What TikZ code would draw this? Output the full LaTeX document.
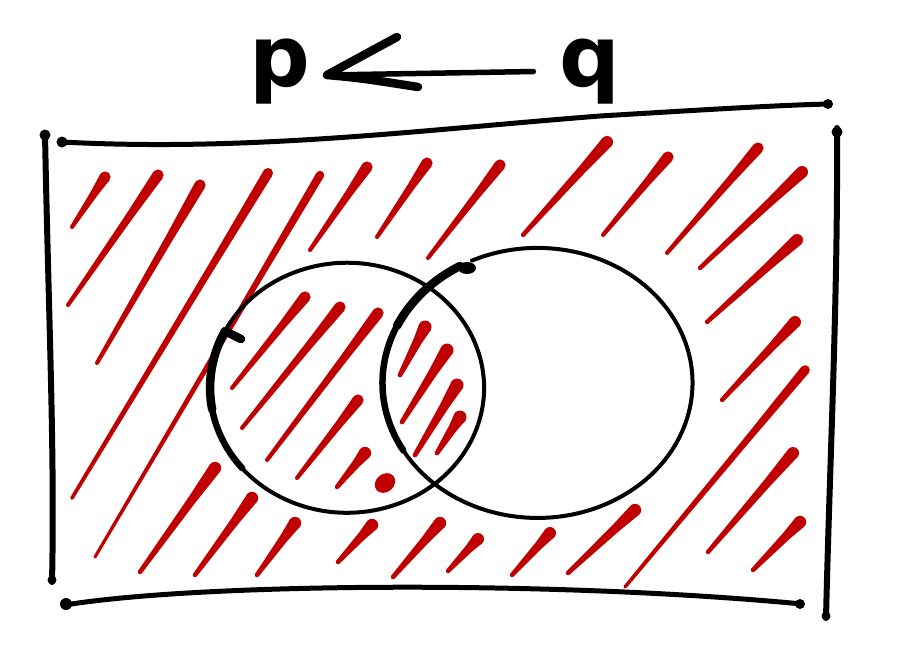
\documentclass[tikz,border=0pt]{standalone}
\usepackage{fontspec}
\newfontfamily\handfont{DejaVu Sans}
\usepackage{tikz}
\usetikzlibrary{calc}
\definecolor{hred}{HTML}{C00000}
\definecolor{ink}{HTML}{000000}
\tikzset{
  pen/.style={ink, line width=4pt, line cap=round, line join=round},
  thickpen/.style={pen, line width=6.5pt},
  hatch/.style={fill=hred},
  letter/.style={font=\handfont\bfseries\fontsize{85}{85}\selectfont,
                 inner sep=0pt, anchor=base},
}

\begin{document}
\begin{tikzpicture}[x=1pt, y=-1pt]

  \useasboundingbox (0,0) rectangle (901,664);

  % hachuras
  \foreach \ax/\ay/\bx/\by/\w in {
      72/227/105/177/5.6, 68/305/158/175/5.6, 97/363/200/185/5.6,
      72/498/268/173/5, 95/557/320/175/4.2, 310/250/367/167/5.6,
      377/237/427/163/5.6, 428/258/500/165/5.6, 523/235/607/142/6,
      603/235/668/157/5.6, 667/253/758/148/5.6, 700/268/802/172/6,
      707/322/797/240/6, 722/400/795/322/6, 625/587/805/370/4.8,
      708/552/793/453/6, 753/570/800/522/6.2,
      140/572/215/468/6.2, 195/575/252/498/6.2, 257/575/295/523/6.2,
      338/562/372/525/6.2, 393/577/440/523/6.2, 448/571/478/539/6,
      512/575/550/533/6, 568/573/635/510/6.2,
      232/388/305/297/5.6, 242/428/340/307/5.6, 267/460/378/313/5.6,
      297/478/358/400/5.6, 337/487/365/453/6.2,
      400/375/425/327/6.5, 402/422/447/350/6.5, 415/455/457/385/6.5,
      437/453/460/417/6.5}{
    \coordinate (s0) at (\ax,\ay);
    \coordinate (s1) at (\bx,\by);
    \coordinate (sm) at ($(s0)!0.7!(s1)$);
    \pgfmathsetmacro\wm{0.7*\w}
    \pgfmathsetmacro\wt{0.36*\w}
    \fill[hatch] ($(s0)!\wt pt!90:(s1)$) -- ($(sm)!\wm pt!90:(s1)$)
      -- ($(s1)!\w pt!-90:(s0)$) -- ($(s1)!\w pt!90:(s0)$)
      -- ($(sm)!\wm pt!-90:(s1)$) -- ($(s0)!\wt pt!-90:(s1)$) -- cycle;
    \fill[hatch] (s1) circle (\w pt) (s0) circle (\wt pt);
  }
  \fill[hatch, rotate around={40:(385,483)}] (385,483) ellipse (11pt and 9pt);

  % moldura
  \draw[pen, line width=5pt] (62,142) .. controls (250,152) and (420,130) .. (600,116)
    .. controls (700,110) and (780,105) .. (830,104);
  \draw[pen, line width=6pt] (45,133) .. controls (48,300) and (55,450) .. (52,582);
  \draw[pen, line width=6pt] (837,128) .. controls (838,300) and (830,450) .. (826,618);
  \draw[pen, line width=5pt] (65,605) .. controls (200,583) and (550,580) .. (802,604);
  \foreach \x/\y/\r in {62/142/5.5, 828/104/5, 45/135/5.5, 52/580/4.5,
                        837/132/5.5, 826/616/4.5, 66/604/6, 800/604/5}
    \fill[ink] (\x,\y) circle (\r pt);

  % conjunto p
  \draw[pen] (241,339) -- (225,331)
    arc[start angle=207, end angle=-152, x radius=137, y radius=125];
  \draw[thickpen] (241,339) -- (225,331)
    arc[start angle=207, end angle=140, x radius=137, y radius=125];
  \draw[pen, line width=8.5pt] (241,339) -- (225,331)
    arc[start angle=207, end angle=170, x radius=137, y radius=125];

  % conjunto q
  \draw[pen] (460,266)
    arc[start angle=240, end angle=-115, x radius=155, y radius=135];
  \draw[thickpen] (460,266)
    arc[start angle=240, end angle=150, x radius=155, y radius=135];
  \draw[pen, line width=8.5pt] (460,266)
    arc[start angle=240, end angle=205, x radius=155, y radius=135];
  \fill[ink] (467,268) ellipse (9pt and 6pt);

  % titulo
  \node[letter] (p) at (280,86) {p};
  \node[letter] (q) at (590,86) {q};
  \coordinate (tip) at (327,75);
  \coordinate (barbup) at (397,37);
  \coordinate (barblo) at (418,87);
  \draw[pen, line width=5.5pt, shorten <=26pt] (q.west) -- (tip);
  \draw[pen, line width=8.5pt] (barbup) -- (tip) .. controls (360,78) .. (barblo);

\end{tikzpicture}
\end{document}
